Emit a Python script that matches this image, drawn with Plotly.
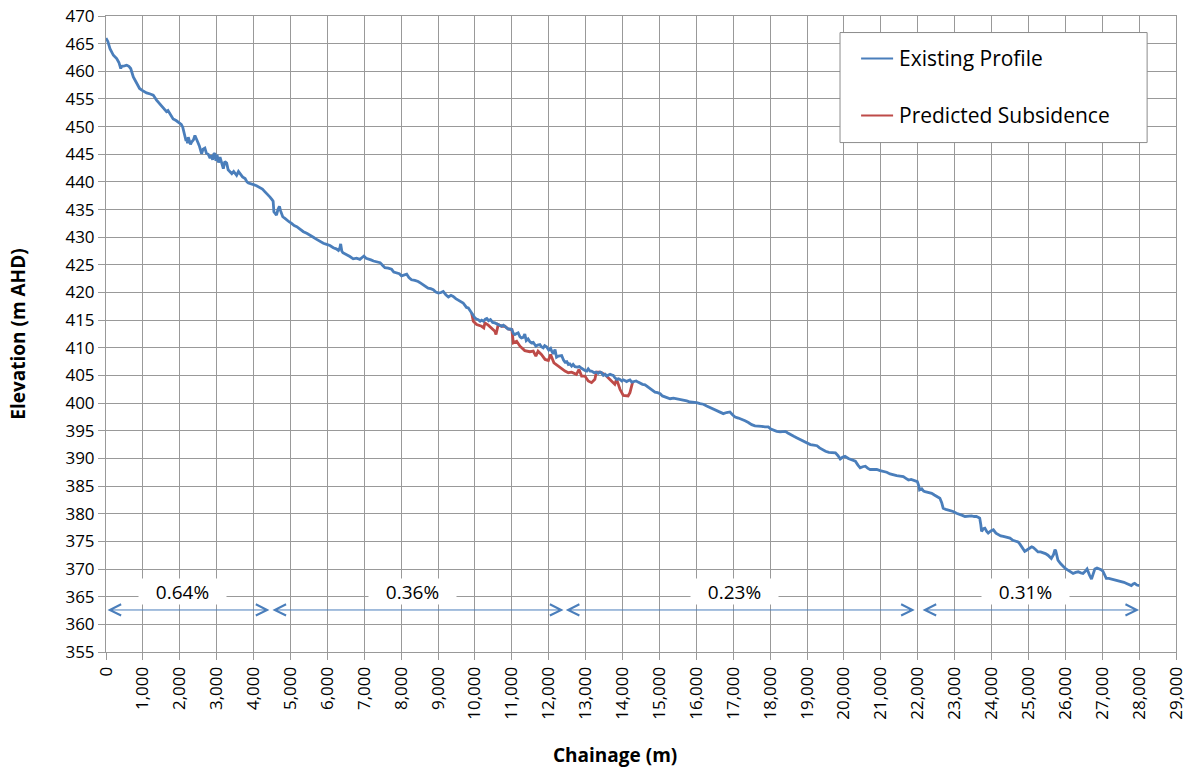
import plotly.graph_objects as go

# Long-section of the creek bed: (chainage m, elevation m AHD)
existing_profile = [
    (0, 466.0), (50, 465.4), (108, 464.1), (200, 462.9), (290, 462.3), (350, 461.6),
    (400, 460.5), (425, 460.9), (500, 461.0), (560, 461.1), (620, 460.9), (670, 460.5),
    (740, 459.0), (800, 458.2), (850, 457.5), (910, 456.9), (970, 456.6), (1030, 456.3),
    (1100, 456.1), (1200, 455.9), (1280, 455.7), (1370, 454.8), (1440, 454.3), (1510, 453.7),
    (1580, 453.3), (1640, 452.7), (1680, 452.9), (1730, 452.3), (1780, 451.9), (1820, 451.4),
    (1900, 451.1), (1990, 450.7), (2040, 450.4), (2080, 449.9), (2110, 449.0), (2140, 448.0),
    (2170, 447.4), (2190, 447.8), (2210, 447.0), (2230, 448.1), (2260, 447.3), (2290, 446.8),
    (2320, 447.2), (2370, 447.6), (2410, 448.4), (2440, 447.8), (2480, 447.3), (2530, 446.5),
    (2560, 445.6), (2590, 445.1), (2630, 445.9), (2680, 446.1), (2720, 445.2), (2770, 445.0),
    (2820, 444.3), (2860, 444.8), (2890, 444.0), (2920, 445.0), (2950, 445.2), (2980, 443.8),
    (3010, 444.9), (3050, 443.5), (3090, 444.5), (3130, 443.3), (3180, 442.4), (3220, 443.7),
    (3270, 443.4), (3310, 442.2), (3360, 441.8), (3410, 441.5), (3460, 441.9), (3540, 441.2),
    (3590, 441.9), (3630, 441.6), (3700, 440.9), (3770, 440.6), (3820, 440.0), (3860, 439.8),
    (3930, 439.7), (4000, 439.5), (4080, 439.3), (4170, 439.0), (4240, 438.7), (4310, 438.2),
    (4380, 437.8), (4440, 437.3), (4500, 436.8), (4530, 436.5), (4550, 434.6), (4590, 434.3),
    (4620, 434.0), (4660, 435.0), (4700, 435.6), (4730, 434.8), (4760, 434.0), (4790, 433.7),
    (4850, 433.4), (4900, 433.1), (4960, 432.8), (5030, 432.5), (5100, 432.1), (5170, 431.9),
    (5260, 431.4), (5350, 431.0), (5440, 430.7), (5530, 430.4), (5620, 430.0), (5710, 429.6),
    (5800, 429.2), (5890, 428.9), (5980, 428.7), (6070, 428.5), (6160, 428.1), (6240, 427.9),
    (6300, 427.6), (6340, 428.1), (6360, 428.8), (6390, 427.5), (6420, 427.2), (6520, 426.9),
    (6610, 426.5), (6700, 426.1), (6790, 426.2), (6880, 426.0), (6940, 426.4), (6990, 426.6),
    (7050, 426.2), (7110, 426.0), (7180, 425.9), (7250, 425.7), (7340, 425.6), (7430, 425.4),
    (7500, 424.9), (7560, 424.5), (7650, 424.4), (7740, 424.2), (7800, 423.7), (7880, 423.6),
    (7950, 423.4), (8010, 423.0), (8080, 423.2), (8150, 423.3), (8210, 422.7), (8280, 422.3),
    (8370, 422.2), (8460, 422.0), (8530, 421.7), (8600, 421.4), (8660, 421.0), (8730, 420.8),
    (8800, 420.7), (8870, 420.5), (8940, 420.1), (9010, 419.9), (9080, 420.0), (9140, 420.2),
    (9210, 419.6), (9280, 419.2), (9350, 419.5), (9410, 419.3), (9480, 418.9), (9550, 418.6),
    (9620, 418.3), (9680, 418.1), (9770, 417.3), (9820, 417.2), (9870, 416.7), (9910, 416.3),
    (9950, 415.9), (10000, 415.4), (10045, 415.2), (10090, 415.1), (10140, 414.8), (10180, 415.0),
    (10230, 414.8), (10280, 415.2), (10320, 415.3), (10370, 414.9), (10420, 415.1), (10480, 414.6),
    (10540, 414.5), (10600, 414.3), (10630, 414.2), (10680, 414.0), (10720, 413.9), (10770, 414.1),
    (10810, 413.9), (10860, 413.6), (10900, 413.4), (10950, 413.4), (11000, 413.3), (11040, 412.6),
    (11080, 412.4), (11130, 412.6), (11170, 412.7), (11220, 412.0), (11260, 411.8), (11310, 411.9),
    (11350, 412.5), (11390, 411.3), (11440, 411.6), (11490, 411.1), (11530, 410.9), (11580, 411.0),
    (11650, 410.3), (11700, 410.5), (11760, 410.6), (11800, 410.2), (11850, 410.0), (11890, 410.4),
    (11940, 410.2), (12000, 409.6), (12050, 409.9), (12080, 409.4), (12120, 408.9), (12170, 409.7),
    (12210, 408.3), (12260, 408.5), (12300, 408.6), (12350, 408.6), (12400, 407.8), (12440, 407.4),
    (12490, 407.5), (12530, 407.0), (12570, 407.1), (12620, 406.7), (12660, 407.0), (12710, 406.6),
    (12770, 406.5), (12830, 406.6), (12890, 406.3), (12940, 406.0), (12980, 405.9), (13030, 405.8),
    (13070, 406.2), (13120, 405.8), (13160, 405.8), (13230, 405.5), (13290, 405.6), (13340, 405.4),
    (13390, 405.6), (13430, 405.5), (13480, 405.0), (13530, 405.2), (13570, 404.9), (13620, 405.1),
    (13660, 405.2), (13700, 405.1), (13750, 405.0), (13790, 404.6), (13840, 404.3), (13890, 404.4),
    (13930, 404.3), (13980, 404.0), (14020, 404.2), (14060, 404.1), (14110, 403.9), (14160, 404.1),
    (14200, 404.2), (14250, 403.8), (14300, 403.9), (14370, 404.0), (14420, 403.8), (14470, 403.6),
    (14540, 403.4), (14610, 403.3), (14680, 403.0), (14750, 402.7), (14810, 402.3), (14880, 402.0),
    (14950, 401.9), (15020, 401.7), (15080, 401.3), (15150, 401.1), (15220, 400.9), (15290, 400.8),
    (15380, 400.9), (15470, 400.8), (15560, 400.6), (15650, 400.5), (15740, 400.4), (15830, 400.2),
    (15920, 400.2), (16010, 400.1), (16100, 399.9), (16190, 399.8), (16280, 399.5), (16370, 399.2),
    (16460, 398.9), (16550, 398.7), (16640, 398.4), (16730, 398.1), (16820, 398.3), (16910, 398.4),
    (16980, 397.9), (17050, 397.5), (17140, 397.3), (17230, 397.1), (17320, 396.8), (17410, 396.5),
    (17500, 396.1), (17590, 395.9), (17680, 395.9), (17770, 395.8), (17860, 395.7), (17950, 395.7),
    (18020, 395.3), (18090, 395.1), (18180, 394.9), (18270, 394.8), (18350, 394.9), (18410, 394.9),
    (18480, 394.6), (18550, 394.3), (18640, 394.0), (18730, 393.7), (18820, 393.4), (18910, 393.1),
    (19000, 392.8), (19090, 392.5), (19180, 392.4), (19270, 392.3), (19340, 391.9), (19410, 391.6),
    (19500, 391.3), (19590, 391.1), (19680, 391.0), (19770, 391.0), (19840, 390.5), (19900, 389.9),
    (19960, 390.2), (20030, 390.4), (20120, 390.0), (20210, 389.8), (20310, 389.5), (20380, 388.8),
    (20440, 388.3), (20510, 388.5), (20580, 388.6), (20650, 388.2), (20710, 388.0), (20800, 388.0),
    (20890, 388.0), (20980, 387.8), (21070, 387.7), (21160, 387.5), (21250, 387.2), (21340, 387.0),
    (21430, 386.9), (21520, 386.8), (21610, 386.7), (21680, 386.4), (21750, 386.1), (21820, 386.2),
    (21880, 386.1), (21940, 385.9), (21990, 385.8), (22030, 385.0), (22050, 384.3), (22110, 384.5),
    (22160, 384.1), (22200, 384.0), (22290, 383.9), (22380, 383.7), (22450, 383.4), (22510, 383.1),
    (22600, 382.8), (22650, 382.0), (22690, 381.0), (22760, 380.8), (22830, 380.7), (22900, 380.6),
    (22960, 380.4), (23050, 380.1), (23140, 379.8), (23210, 379.7), (23280, 379.5), (23370, 379.6),
    (23460, 379.6), (23530, 379.5), (23590, 379.5), (23650, 379.3), (23680, 379.2), (23710, 378.0),
    (23730, 376.8), (23780, 377.3), (23820, 377.4), (23870, 376.8), (23910, 376.5), (23980, 376.9),
    (24050, 377.1), (24120, 376.5), (24180, 376.2), (24250, 376.0), (24320, 375.9), (24400, 375.8),
    (24500, 375.6), (24580, 375.2), (24680, 375.0), (24720, 374.9), (24770, 374.5), (24810, 374.1),
    (24860, 373.6), (24900, 373.2), (24950, 373.4), (25000, 373.7), (25040, 373.8), (25090, 374.0),
    (25130, 373.9), (25200, 373.5), (25260, 373.1), (25330, 373.1), (25400, 373.0), (25460, 372.8),
    (25530, 372.5), (25580, 372.2), (25620, 371.9), (25680, 372.6), (25720, 373.5), (25740, 373.3),
    (25770, 372.3), (25800, 371.6), (25870, 371.0), (25940, 370.4), (26000, 370.1), (26070, 369.8),
    (26140, 369.5), (26210, 369.2), (26280, 369.4), (26350, 369.5), (26420, 369.3), (26480, 369.2),
    (26540, 369.6), (26590, 370.0), (26650, 369.0), (26710, 368.2), (26750, 369.0), (26800, 370.0),
    (26860, 370.2), (26920, 370.1), (26970, 369.9), (27020, 369.6), (27070, 368.8), (27110, 368.3),
    (27180, 368.3), (27250, 368.2), (27320, 368.1), (27380, 368.0), (27450, 367.9), (27520, 367.7),
    (27590, 367.6), (27660, 367.4), (27720, 367.2), (27790, 367.0), (27840, 367.3), (27880, 367.4),
    (27940, 367.1), (28000, 367.0),
]

# Bed level after predicted subsidence over the mined reach
predicted_subsidence = [
    (9910, 416.3), (9955, 414.8), (10045, 414.2), (10180, 413.9), (10240, 413.6), (10270, 414.5),
    (10360, 414.1), (10450, 413.5), (10540, 413.0), (10570, 412.4), (10600, 413.7), (10630, 414.2),
    (10720, 413.9), (10810, 413.9), (10900, 413.4), (11000, 413.3), (11040, 410.9), (11130, 411.2),
    (11220, 410.3), (11350, 409.5), (11490, 409.3), (11580, 409.4), (11650, 408.5), (11710, 409.4),
    (11800, 408.8), (11900, 407.9), (11990, 407.7), (12050, 408.8), (12140, 407.3), (12260, 406.7),
    (12350, 406.1), (12440, 405.8), (12530, 405.5), (12620, 405.6), (12750, 405.2), (12820, 406.1),
    (12890, 404.9), (12980, 404.9), (13070, 404.0), (13160, 403.7), (13250, 404.3), (13290, 405.6),
    (13390, 405.6), (13520, 405.2), (13610, 404.6), (13700, 404.0), (13790, 403.4), (13840, 404.3),
    (13930, 402.5), (14020, 401.4), (14150, 401.3), (14200, 401.9), (14270, 403.7),
]

# Average grade segments along the creek
grade_start = [0, 4470, 12420, 22090]
grade_end = [4430, 12400, 21920, 28000]
grade_labels = ["0.64%", "0.36%", "0.23%", "0.31%"]
grade_arrow_level = 362.6

series_names = ["Existing Profile", "Predicted Subsidence"]
BLUE = "#4A7EBB"
RED = "#BE4B48"
GRID = "#999999"
FONT = "'Open Sans', Lato, sans-serif"

ex_x, ex_y = zip(*existing_profile)
ps_x, ps_y = zip(*predicted_subsidence)

fig = go.Figure()
# subsidence drawn first so the existing bed sits on top where they coincide
fig.add_trace(go.Scatter(x=ps_x, y=ps_y, mode="lines", name=series_names[1],
                         line=dict(color=RED, width=2.8), showlegend=False))
fig.add_trace(go.Scatter(x=ex_x, y=ex_y, mode="lines", name=series_names[0],
                         line=dict(color=BLUE, width=2.8), showlegend=False))

annotations = []
for x0, x1, lab in zip(grade_start, grade_end, grade_labels):
    annotations.append(dict(
        x=x1, y=grade_arrow_level, ax=x0, ay=grade_arrow_level,
        xref="x", yref="y", axref="x", ayref="y", text="",
        showarrow=True, arrowside="end+start",
        arrowhead=5, startarrowhead=5, arrowsize=2.2, startarrowsize=2.2,
        arrowwidth=1, arrowcolor=BLUE,
    ))
    annotations.append(dict(
        x=(x0 + x1) / 2, y=grade_arrow_level, xref="x", yref="y",
        text=lab, showarrow=False, xshift=-5, yshift=18,
        bgcolor="white", width=83, height=21, borderpad=2,
        font=dict(family=FONT, size=19, color="#000000"),
    ))

# axis titles
annotations.append(dict(
    text="<b>Elevation (m AHD)</b>", xref="paper", yref="paper",
    x=-0.0825, y=0.5, xanchor="center", yanchor="middle", textangle=-90, showarrow=False,
    font=dict(family=FONT, size=19, color="#000000"),
))
annotations.append(dict(
    text="<b>Chainage (m)</b>", xref="paper", yref="paper",
    x=0.476, y=-0.162, xanchor="center", yanchor="middle", showarrow=False,
    font=dict(family=FONT, size=19, color="#000000"),
))

# legend panel
legend_rows = [0.9333, 0.8437]
shapes = [dict(type="rect", xref="paper", yref="paper",
               x0=0.686, x1=0.973, y0=0.801, y1=0.974,
               line=dict(color="#8C8C8C", width=1), fillcolor="white", layer="above")]
for name, color, yy in zip(series_names, [BLUE, RED], legend_rows):
    shapes.append(dict(type="line", xref="paper", yref="paper",
                       x0=0.7057, x1=0.7356, y0=yy, y1=yy,
                       line=dict(color=color, width=2), layer="above"))
    annotations.append(dict(
        text=name, xref="paper", yref="paper", x=0.7393, y=yy,
        xanchor="left", yanchor="middle", showarrow=False,
        font=dict(family=FONT, size=21, color="#000000"),
    ))

axis_common = dict(
    showgrid=True, gridcolor=GRID, gridwidth=1,
    showline=True, linecolor=GRID, linewidth=1, mirror=True,
    ticks="outside", tickcolor=GRID, ticklen=7, tickwidth=1,
    zeroline=False, automargin=False,
    tickfont=dict(family=FONT, size=17, color="#000000"),
)

fig.update_layout(
    width=1193, height=771,
    margin=dict(l=106, r=17, t=16, b=119),
    paper_bgcolor="white", plot_bgcolor="white",
    xaxis=dict(range=[0, 29000], dtick=1000, tick0=0, tickformat=",d",
               tickangle=-90, **axis_common),
    yaxis=dict(range=[355, 470], dtick=5, tick0=355, **axis_common),
    annotations=annotations, shapes=shapes,
    showlegend=False,
)

fig.write_html("out.html")
